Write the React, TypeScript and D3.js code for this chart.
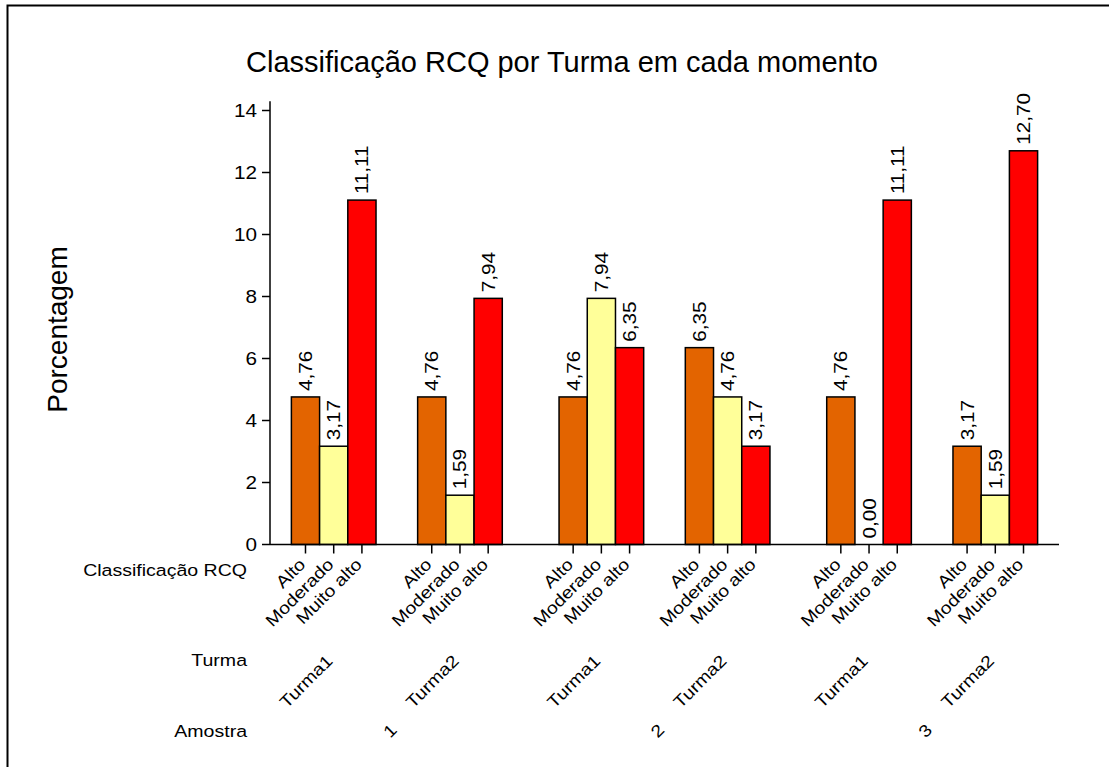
import * as d3 from "d3"

const amostras = ["1", "2", "3"]
const turmas = ["Turma1", "Turma2"]
const classes = ["Alto", "Moderado", "Muito alto"]
// one value per (amostra, turma) pair, in order 1/T1, 1/T2, 2/T1, 2/T2, 3/T1, 3/T2
const altoValues = [4.76, 4.76, 4.76, 6.35, 4.76, 3.17]
const moderadoValues = [3.17, 1.59, 7.94, 4.76, 0.0, 1.59]
const muitoAltoValues = [11.11, 7.94, 6.35, 3.17, 11.11, 12.7]
const yTicks = [0, 2, 4, 6, 8, 10, 12, 14]
const colors = ["#E36400", "#FFFF99", "#FF0000"]

const W = 1109
const H = 767
const font = "'Liberation Sans', Arial, sans-serif"
const stretch = "scale(1.15,1)"

export default function App() {
  const x0 = d3.scaleBand().domain(amostras).range([263, 1066])
  const x1 = d3.scaleBand().domain(turmas).range([0, x0.bandwidth()]).paddingOuter(0.06)
  const x2 = d3.scaleBand().domain(classes).range([0, x1.bandwidth()]).paddingOuter(0.7376)
  const y = d3.scaleLinear().domain([0, 14]).range([544.5, 110.5])
  const fmt = (v: number) => d3.format(".2f")(v).replace(".", ",")

  const series = [altoValues, moderadoValues, muitoAltoValues]
  const bars: { x: number; w: number; v: number; c: number }[] = []
  const groups: { cx: number; turma: string }[] = []
  amostras.forEach((a, i) => {
    turmas.forEach((t, j) => {
      const k = i * 2 + j
      const gx = x0(a)! + x1(t)!
      groups.push({ cx: gx + x1.bandwidth() / 2, turma: t })
      classes.forEach((c, ci) => {
        bars.push({ x: gx + x2(c)!, w: x2.bandwidth(), v: series[ci][k], c: ci })
      })
    })
  })

  const axisLeft = 270
  const axisRight = x0.range()[1] - 7

  return (
    <svg width={W} height={H} style={{ position: "absolute", left: 0, top: 0, background: "#fff" }} fontFamily={font}>
      {/* frame */}
      <path d={`M7.5,${H} V5.5 H${W}`} fill="none" stroke="#000" strokeWidth={2} />

      <text x={562} y={72} fontSize={29} textAnchor="middle">
        Classificação RCQ por Turma em cada momento
      </text>
      <text transform={`translate(67,${y(7) + 2}) rotate(-90)`} fontSize={28} textAnchor="middle">
        Porcentagem
      </text>

      {/* bars */}
      {bars.map((b, i) => (
        <rect key={i} x={b.x} y={y(b.v)} width={b.w} height={y(0) - y(b.v)} fill={colors[b.c]} stroke="#000" strokeWidth={1.5} />
      ))}

      {/* value labels */}
      {bars.map((b, i) => (
        <text
          key={"v" + i}
          transform={`translate(${b.x + b.w / 2 + 6.5},${y(b.v) - 6}) rotate(-90) ${stretch}`}
          fontSize={18}
        >
          {fmt(b.v)}
        </text>
      ))}

      {/* y axis */}
      <line x1={axisLeft} x2={axisLeft} y1={y(14.3)} y2={y(0)} stroke="#000" strokeWidth={1.5} />
      {yTicks.map((t) => (
        <g key={t}>
          <line x1={axisLeft - 8} x2={axisLeft} y1={y(t)} y2={y(t)} stroke="#000" strokeWidth={1.5} />
          <text transform={`translate(${axisLeft - 13},${y(t) + 6.5}) ${stretch}`} fontSize={18} textAnchor="end">
            {t}
          </text>
        </g>
      ))}

      {/* x axis */}
      <line x1={axisLeft} x2={axisRight} y1={y(0)} y2={y(0)} stroke="#000" strokeWidth={1.5} />
      {bars.map((b, i) => (
        <g key={"t" + i}>
          <line x1={b.x + b.w / 2} x2={b.x + b.w / 2} y1={y(0)} y2={y(0) + 9} stroke="#000" strokeWidth={1.5} />
          <text
            transform={`translate(${b.x + b.w / 2 + 1},${y(0) + 21}) rotate(-45) ${stretch}`}
            fontSize={17}
            textAnchor="end"
          >
            {classes[b.c]}
          </text>
        </g>
      ))}

      {groups.map((g, i) => (
        <text key={"g" + i} transform={`translate(${g.cx},${662}) rotate(-45) ${stretch}`} fontSize={17} textAnchor="end">
          {g.turma}
        </text>
      ))}

      {amostras.map((a) => (
        <text
          key={"a" + a}
          transform={`translate(${x0(a)! + x0.bandwidth() / 2 + 1},${731}) rotate(-45) ${stretch}`}
          fontSize={17}
          textAnchor="end"
        >
          {a}
        </text>
      ))}

      {/* row captions */}
      <text transform={`translate(247,576) ${stretch}`} fontSize={17} textAnchor="end">
        Classificação RCQ
      </text>
      <text transform={`translate(247,666) ${stretch}`} fontSize={17} textAnchor="end">
        Turma
      </text>
      <text transform={`translate(247,737) ${stretch}`} fontSize={17} textAnchor="end">
        Amostra
      </text>
    </svg>
  )
}
